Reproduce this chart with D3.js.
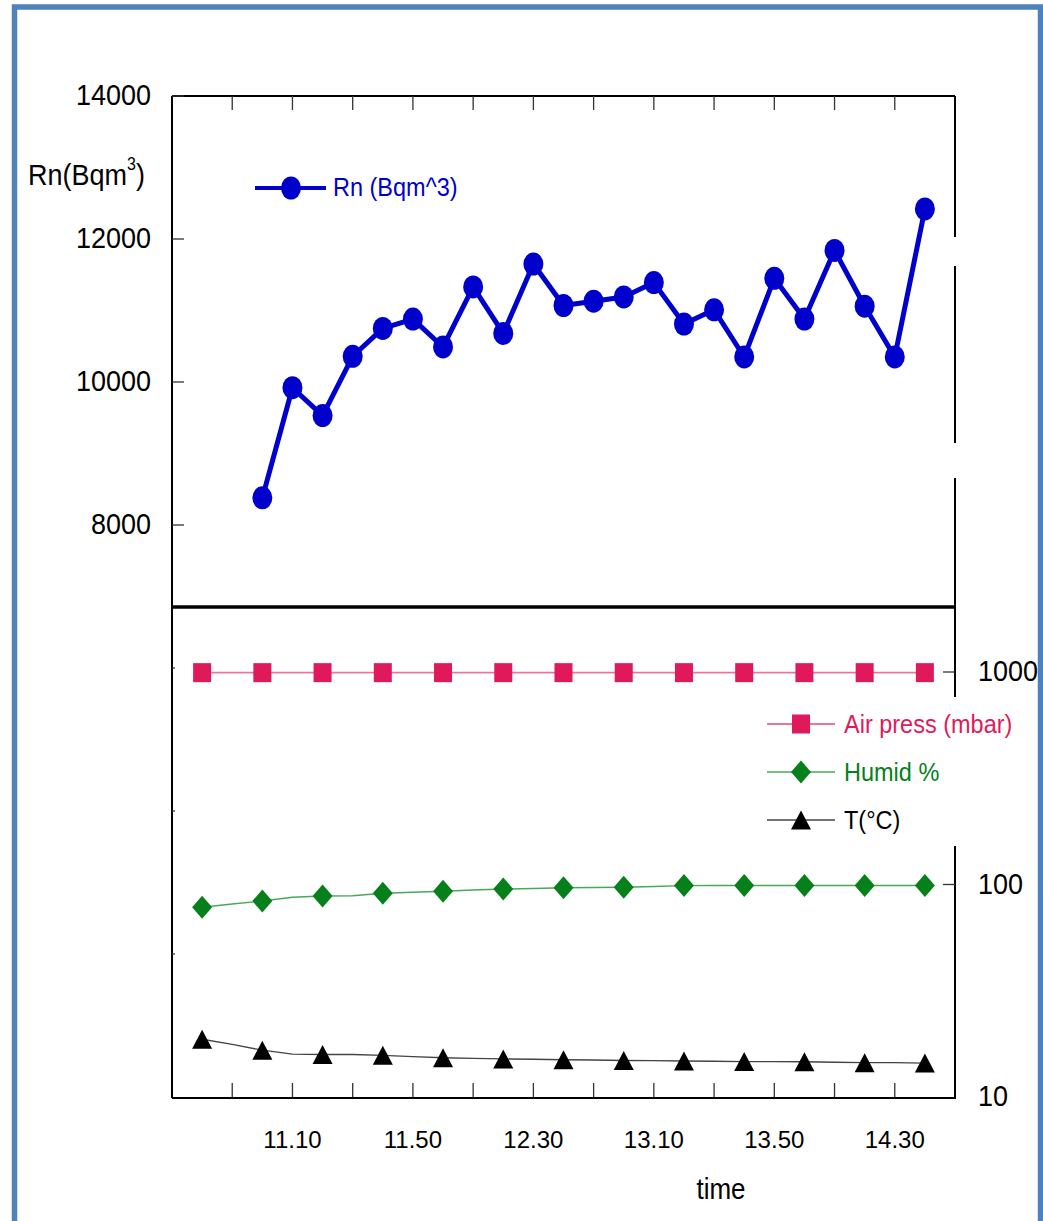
<!DOCTYPE html>
<html>
<head>
<meta charset="utf-8">
<script src="https://cdn.jsdelivr.net/npm/d3@7"></script>
<style>
  html, body { margin: 0; padding: 0; background: #fff; }
  svg { display: block; font-family: "Liberation Sans", Arial, Helvetica, sans-serif; }
</style>
</head>
<body>
<svg id="chart" width="1043" height="1221"></svg>
<script>
// Sample times (every 10 minutes), radon starts at 11.00.
const times = ["10.40", "10.50", "11.00", "11.10", "11.20", "11.30", "11.40", "11.50", "12.00",
  "12.10", "12.20", "12.30", "12.40", "12.50", "13.00", "13.10", "13.20", "13.30", "13.40",
  "13.50", "14.00", "14.10", "14.20", "14.30", "14.40"];
const radon = [null, null, 8380, 9920, 9530, 10360, 10750, 10880, 10490, 11330, 10680, 11650,
  11070, 11130, 11190, 11390, 10810, 11010, 10350, 11450, 10880, 11840, 11060, 10350, 12420];
const airPress = [993, 993, 993, 993, 993, 993, 993, 993, 993, 993, 993, 993, 993,
  993, 993, 993, 993, 993, 993, 993, 993, 993, 993, 993, 993];
const humid = [78.1, 80.9, 83.6, 87.1, 88.3, 88.5, 90.9, 91.9, 92.9, 94.2, 95.2, 95.8, 96.6,
  96.8, 97.0, 97.9, 98.8, 99, 99, 99, 99, 99, 99, 99, 99];
const temp = [18.7, 17.7, 16.6, 15.9, 15.85, 15.85, 15.7, 15.5, 15.3, 15.2, 15.1, 15.05, 14.97,
  14.93, 14.85, 14.83, 14.77, 14.73, 14.68, 14.67, 14.65, 14.57, 14.5, 14.5, 14.45];
const rnTicks = [2000, 4000, 6000, 8000, 10000, 12000, 14000];
const rnLabels = [8000, 10000, 12000, 14000];
const logTicks = [10, 100, 1000];

const svg = d3.select("#chart");
const plotLeft = 172, plotRight = 955, plotTop = 96, plotBottom = 1097, divider = 607;

const x = d3.scaleLinear().domain([-1, times.length]).range([plotLeft, plotRight]);
const yRn = d3.scaleLinear().domain([0, 14000]).range([plotBottom, plotTop]);
const yLog = d3.scaleLog().domain([10, 1000]).range([plotBottom, 672]);

const blue = "#0000cc", pink = "#e01a5a", green = "#06801a";

// Slightly tall text, like the original export.
function label(parent, px, py, str, size, anchor, color) {
  return parent.append("text")
    .attr("transform", `translate(${px},${py}) scale(1,1.1)`)
    .attr("text-anchor", anchor)
    .attr("fill", color || "#000")
    .style("font-size", `${size}px`)
    .text(str);
}

// Outer blue frame.
svg.append("rect")
  .attr("x", 14.5).attr("y", 7).attr("width", 1026).attr("height", 1300)
  .attr("fill", "none").attr("stroke", "#4f81bd").attr("stroke-width", 5.5);

// Plot frame.
const frame = svg.append("g").attr("stroke", "#000").attr("fill", "none");
frame.append("line").attr("x1", plotLeft).attr("x2", plotLeft).attr("y1", plotTop).attr("y2", plotBottom + 1).attr("stroke-width", 2);
frame.append("line").attr("x1", plotLeft).attr("x2", plotRight).attr("y1", plotTop).attr("y2", plotTop).attr("stroke-width", 2);
frame.append("line").attr("x1", plotLeft).attr("x2", plotRight + 1).attr("y1", plotBottom + 1).attr("y2", plotBottom + 1).attr("stroke-width", 2);
frame.append("line").attr("x1", plotLeft).attr("x2", plotRight).attr("y1", divider).attr("y2", divider).attr("stroke-width", 3.5);
// Right axis is broken in a few places in the original.
[[plotTop, 237], [266, 443], [478, divider], [divider, 697], [846, plotBottom + 1]].forEach(([a, b]) => {
  frame.append("line").attr("x1", plotRight).attr("x2", plotRight).attr("y1", a).attr("y2", b).attr("stroke-width", 2);
});

// Time ticks on top and bottom, at odd indices.
const tickIdx = d3.range(1, times.length, 2);
const ticks = svg.append("g").attr("stroke", "#333").attr("stroke-width", 1.3);
tickIdx.forEach((i) => {
  ticks.append("line").attr("x1", x(i)).attr("x2", x(i)).attr("y1", plotTop).attr("y2", plotTop + 14);
  ticks.append("line").attr("x1", x(i)).attr("x2", x(i)).attr("y1", plotBottom).attr("y2", plotBottom - 14);
});

// Left Rn ticks.
rnTicks.forEach((v) => {
  const len = v >= 8000 ? 12 : 3;
  ticks.append("line").attr("x1", plotLeft).attr("x2", plotLeft + len).attr("y1", yRn(v)).attr("y2", yRn(v));
});
rnLabels.forEach((v) => label(svg, 151, yRn(v) + 9, v, 27, "end"));

// Right log ticks.
logTicks.forEach((v) => {
  if (v > 10) ticks.append("line").attr("x1", plotRight - 12).attr("x2", plotRight).attr("y1", yLog(v)).attr("y2", yLog(v));
  label(svg, 978, yLog(v) + 9, v, 27, "start");
});

// Time labels.
times.forEach((t, i) => {
  if ((i - 3) % 4 === 0) {
    svg.append("text").attr("x", x(i)).attr("y", 1148).attr("text-anchor", "middle")
      .style("font-size", "24px").text(t);
  }
});
label(svg, 721, 1199, "time", 26, "middle");

// Rn axis title with superscript.
const rnTitle = svg.append("text")
  .attr("transform", "translate(28,185) scale(1,1.1)")
  .style("font-size", "27px");
rnTitle.append("tspan").text("Rn(Bqm");
rnTitle.append("tspan").attr("dy", -14).style("font-size", "16px").text("3");
rnTitle.append("tspan").attr("dy", 14).text(")");

// Rn series.
const rnLine = d3.line().defined((d) => d != null).x((d, i) => x(i)).y((d) => yRn(d));
svg.append("path").datum(radon).attr("d", rnLine)
  .attr("fill", "none").attr("stroke", blue).attr("stroke-width", 5).attr("stroke-linejoin", "round");
svg.append("g").selectAll("ellipse")
  .data(radon.map((v, i) => ({ v, i })).filter((d) => d.v != null))
  .join("ellipse")
  .attr("cx", (d) => x(d.i)).attr("cy", (d) => yRn(d.v))
  .attr("rx", 10).attr("ry", 11.5).attr("fill", blue);

// Marker shapes for the lower panel.
function square(g, cx, cy, color) {
  g.append("rect").attr("x", cx - 9).attr("y", cy - 9.5).attr("width", 18).attr("height", 19).attr("fill", color);
}
function diamond(g, cx, cy, color) {
  g.append("path").attr("d", `M${cx},${cy - 11.5}L${cx + 10},${cy}L${cx},${cy + 11.5}L${cx - 10},${cy}Z`).attr("fill", color);
}
function triangle(g, cx, cy, color) {
  g.append("path").attr("d", `M${cx},${cy - 9.5}L${cx + 10},${cy + 9.5}L${cx - 10},${cy + 9.5}Z`).attr("fill", color);
}

const series = [
  { name: "Air press (mbar)", values: airPress, color: pink, line: "#e9779c", width: 1.8, marker: square, legendY: 724 },
  { name: "Humid %", values: humid, color: green, line: "#4aa955", width: 1.4, marker: diamond, legendY: 772 },
  { name: "T(\u00b0C)", values: temp, color: "#000", line: "#444", width: 1.3, marker: triangle, legendY: 820 },
];

const logLine = d3.line().x((d, i) => x(i)).y((d) => yLog(d));
series.forEach((s) => {
  svg.append("path").datum(s.values).attr("d", logLine)
    .attr("fill", "none").attr("stroke", s.line).attr("stroke-width", s.width);
  const g = svg.append("g");
  s.values.forEach((v, i) => {
    if (i % 2 === 0) s.marker(g, x(i), yLog(v), s.color);
  });
});

// Legends.
const legTop = svg.append("g");
legTop.append("line").attr("x1", 255).attr("x2", 326).attr("y1", 188).attr("y2", 188)
  .attr("stroke", blue).attr("stroke-width", 4);
legTop.append("ellipse").attr("cx", 291).attr("cy", 188).attr("rx", 10).attr("ry", 11.5).attr("fill", blue);
label(legTop, 333, 196, "Rn (Bqm^3)", 23.5, "start", blue);

const legBottom = svg.append("g");
series.forEach((s) => {
  legBottom.append("line").attr("x1", 767).attr("x2", 835).attr("y1", s.legendY).attr("y2", s.legendY)
    .attr("stroke", s.line).attr("stroke-width", s.width);
  s.marker(legBottom, 801, s.legendY, s.color);
  label(legBottom, 844, s.legendY + 8.5, s.name, 23.5, "start", s.color);
});
</script>
</body>
</html>
